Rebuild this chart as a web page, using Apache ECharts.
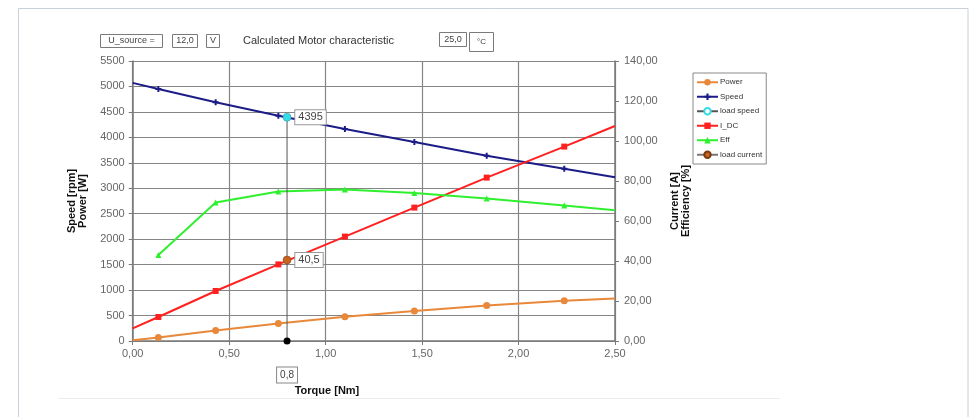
<!DOCTYPE html>
<html>
<head>
<meta charset="utf-8">
<script src="https://cdn.jsdelivr.net/npm/echarts@6/dist/echarts.min.js"></script>
<style>
html,body{margin:0;padding:0;background:#fff;}
#chart{width:971px;height:417px;}
</style>
</head>
<body>
<div id="chart"></div>
<script>
// ---- data ----
var torque  = [0, 0.133, 0.43, 0.755, 1.10, 1.46, 1.835, 2.237, 2.5];
var speed   = [5070, 4950, 4690, 4426, 4164, 3909, 3640, 3385, 3215];
var power   = [15, 69, 205, 345, 475, 590, 695, 790, 835];
var current = [6.3, 12.0, 25.0, 38.3, 52.2, 66.7, 81.7, 97.2, 107.5];
var eff     = [null, 43.0, 69.2, 74.8, 75.8, 74.0, 71.2, 67.7, 65.4];
var loadTorque = 0.8;
var loadSpeed = 4395;
var loadCurrent = 40.5;
var seriesNames = ['Power', 'Speed', 'load speed', 'I_DC', 'Eff', 'load current'];
var uSource = '12,0';
var temperature = '25,0';

function comma(v, d){ return v.toFixed(d).replace('.', ','); }
function pts(ys){
  var out = [];
  for (var i = 0; i < torque.length; i++) {
    if (ys[i] == null) continue;
    var edge = (i === 0 || i === torque.length - 1);
    out.push(edge ? {value:[torque[i], ys[i]], symbol:'none'} : [torque[i], ys[i]]);
  }
  return out;
}

var chart = echarts.init(document.getElementById('chart'), null, {renderer:'canvas'});
var FONT = 'Liberation Sans, Arial, sans-serif';
var gridColor = '#858585';
var plusPath = 'path://M2,0h2v2h2v2h-2v2h-2v-2h-2v-2h2z';

function box(x, y, w, h, txt, fs){
  return [
    {type:'rect', shape:{x:x, y:y, width:w, height:h}, style:{fill:'#fff', stroke:'#7a7a7a', lineWidth:1}},
    {type:'text', x:x + w/2, y:y + h/2, style:{text:txt, font:(fs||9)+'px '+FONT, fill:'#444', align:'center', verticalAlign:'middle'}}
  ];
}

var graphics = [
  {type:'rect', shape:{x:18.5, y:8.5, width:949.5, height:420}, style:{fill:'none', stroke:'#c8d0da', lineWidth:1}},
  {type:'line', shape:{x1:58, y1:398.5, x2:780, y2:398.5}, style:{stroke:'#ececec', lineWidth:1}},
  {type:'text', x:243, y:41, style:{text:'Calculated Motor characteristic', font:'11px '+FONT, fill:'#333', verticalAlign:'middle'}},
  {type:'text', x:327, y:391, style:{text:'Torque [Nm]', font:'bold 11px '+FONT, fill:'#111', align:'center', verticalAlign:'middle'}}
].concat(box(100.5, 34.5, 62, 13, 'U_source =', 9))
 .concat(box(172.5, 34.5, 25, 13, uSource, 9))
 .concat(box(206.5, 34.5, 13, 13, 'V', 9))
 .concat(box(439.5, 32.5, 27, 14, temperature, 9))
 .concat(box(469.5, 32.5, 24, 19, '°C', 8));

var option = {
  animation:false,
  textStyle:{fontFamily:FONT},
  grid:{left:132.7, right:356, top:61, bottom:76, containLabel:false},
  legend:{
    orient:'vertical', left:693, top:73,
    data:seriesNames,
    itemWidth:21, itemHeight:8, itemGap:4,
    backgroundColor:'#fff', borderColor:'#888', borderWidth:1,
    padding:[4, 4, 4, 3],
    textStyle:{fontSize:8, color:'#333', lineHeight:10.5, fontFamily:FONT, padding:[0,0,0,-3]}
  },
  xAxis:{
    type:'value', min:0, max:2.5, interval:0.5,
    axisLine:{lineStyle:{color:'#7a7a7a', width:1.5}},
    axisTick:{show:true, length:4, lineStyle:{color:'#7a7a7a'}},
    axisLabel:{formatter:function(v){return comma(v,2);}, color:'#666', fontSize:11, margin:7},
    splitLine:{show:true, lineStyle:{color:gridColor, width:1.2}}
  },
  yAxis:[{
    type:'value', min:0, max:5500, interval:500, position:'left',
    name:'Speed [rpm]\nPower [W]', nameLocation:'middle', nameGap:44, nameRotate:90,
    nameTextStyle:{fontWeight:'bold', fontSize:11, color:'#111', lineHeight:11},
    axisLine:{show:true, lineStyle:{color:'#7a7a7a', width:1.5}},
    axisTick:{show:true, length:4, lineStyle:{color:'#7a7a7a'}},
    axisLabel:{formatter:function(v){return String(v);}, color:'#666', fontSize:11, margin:8},
    splitLine:{show:true, lineStyle:{color:gridColor, width:1.2}}
  },{
    type:'value', min:0, max:140, interval:20, position:'right',
    name:'Current [A]\nEfficiency [%]', nameLocation:'middle', nameGap:54, nameRotate:90,
    nameTextStyle:{fontWeight:'bold', fontSize:11, color:'#111', lineHeight:11},
    axisLine:{show:true, lineStyle:{color:'#7a7a7a', width:1.5}},
    axisTick:{show:true, length:4, lineStyle:{color:'#7a7a7a'}},
    axisLabel:{formatter:function(v){return comma(v,2);}, color:'#666', fontSize:11, margin:9},
    splitLine:{show:false}
  }],
  graphic:graphics,
  series:[
    {name:'Power', type:'line', yAxisIndex:0, data:pts(power),
     symbol:'circle', symbolSize:7, color:'#e8883a', lineStyle:{width:2, color:'#e8883a'}, z:3},
    {name:'Speed', type:'line', yAxisIndex:0, data:pts(speed),
     symbol:plusPath, symbolSize:6, color:'#1c1c88', lineStyle:{width:2, color:'#1c1c88'}, z:3},
    {name:'load speed', type:'line', yAxisIndex:0,
     data:[
       {value:[loadTorque, 0], symbol:'circle', symbolSize:7, itemStyle:{color:'#000'},
        label:{show:true, position:'bottom', distance:23, formatter:function(){return comma(loadTorque,1);},
               color:'#444', fontSize:10, backgroundColor:'#fff', borderColor:'#888', borderWidth:1, padding:[3,3,2,3]}},
       {value:[loadTorque, loadSpeed], symbol:'circle', symbolSize:8, itemStyle:{color:'#33dde8', borderColor:'#2a8a9a', borderWidth:0.5},
        label:{show:true, position:'right', distance:4, formatter:function(){return String(loadSpeed);},
               color:'#444', fontSize:11, backgroundColor:'#fff', borderColor:'#999', borderWidth:1, padding:[2,3,1,3]}}
     ],
     color:'#33dde8', lineStyle:{width:1, color:'#555'}, z:4},
    {name:'I_DC', type:'line', yAxisIndex:1, data:pts(current),
     symbol:'rect', symbolSize:6, color:'#ff2020', lineStyle:{width:2, color:'#ff2020'}, z:3},
    {name:'Eff', type:'line', yAxisIndex:1, data:pts(eff),
     symbol:'triangle', symbolSize:6, color:'#2ef02e', lineStyle:{width:2, color:'#2ef02e'}, z:3},
    {name:'load current', type:'line', yAxisIndex:1,
     data:[{value:[loadTorque, loadCurrent],
        label:{show:true, position:'right', distance:4, formatter:function(){return comma(loadCurrent,1);},
               color:'#444', fontSize:11, backgroundColor:'#fff', borderColor:'#999', borderWidth:1, padding:[2,3,1,3]}}],
     symbol:'circle', symbolSize:8, color:'#c8641e', itemStyle:{borderColor:'#7a3a10', borderWidth:0.5},
     lineStyle:{width:1, color:'#777'}, z:5}
  ]
};
chart.setOption(option);
</script>
</body>
</html>
